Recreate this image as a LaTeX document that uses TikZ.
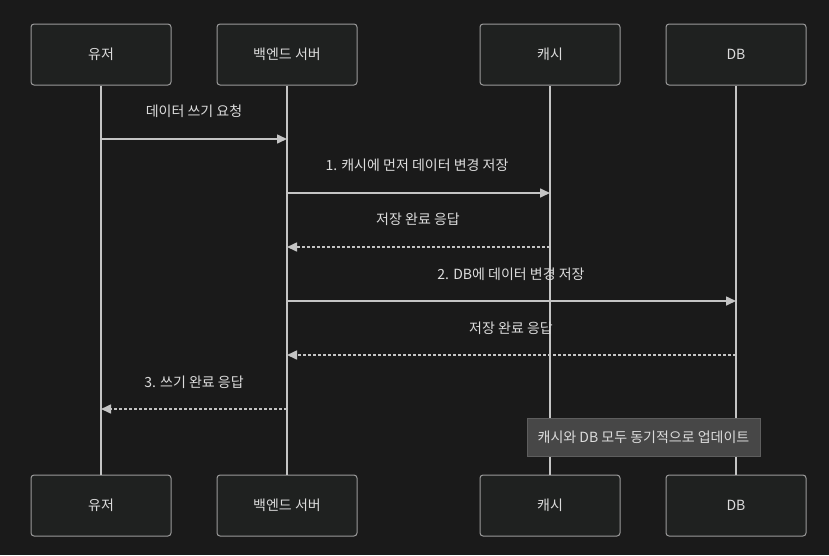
\documentclass[tikz,border=0pt]{standalone}
\usepackage{fontspec}
\setmainfont{Noto Sans CJK KR}
\usetikzlibrary{arrows.meta}
\definecolor{bgc}{HTML}{1A1A1A}
\definecolor{boxfill}{HTML}{1F2120}
\definecolor{boxline}{HTML}{9A9A9A}
\definecolor{lifec}{HTML}{C4C4C4}
\definecolor{txtc}{HTML}{DCDCDC}
\definecolor{notefill}{HTML}{474747}
\definecolor{noteline}{HTML}{5E5E5E}
\tikzset{
  actor/.style={draw=boxline, fill=boxfill, line width=1pt, rounded corners=3pt,
    minimum width=140pt, minimum height=61pt, text=txtc, font=\fontsize{14}{16}\selectfont, inner sep=0pt},
  lifeline/.style={draw=lifec, line width=1.5pt},
  msg/.style={draw=lifec, line width=1.6pt, -{Triangle[length=10pt,width=9pt]}},
  reply/.style={msg, dash pattern=on 3pt off 2pt},
  lbl/.style={text=txtc, font=\fontsize{14}{16}\selectfont, inner sep=0pt},
  notebox/.style={draw=noteline, fill=notefill, line width=1pt, text=txtc,
    font=\fontsize{14}{16}\selectfont, minimum width=233pt, minimum height=38pt, inner sep=0pt}
}
\begin{document}
\begin{tikzpicture}[x=1pt,y=-1pt]
\fill[bgc] (0,0) rectangle (829,555);
\useasboundingbox (0,0) rectangle (829,555);
% top actors
\node[actor] (u1) at (101,54.5) {유저};
\node[actor] (b1) at (287,54.5) {백엔드 서버};
\node[actor] (c1) at (550,54.5) {캐시};
\node[actor] (d1) at (736,54.5) {DB};
% bottom actors
\node[actor] (u2) at (101,505.5) {유저};
\node[actor] (b2) at (287,505.5) {백엔드 서버};
\node[actor] (c2) at (550,505.5) {캐시};
\node[actor] (d2) at (736,505.5) {DB};
% lifelines
\draw[lifeline] (u1.south) -- (u2.north);
\draw[lifeline] (b1.south) -- (b2.north);
\draw[lifeline] (c1.south) -- (c2.north);
\draw[lifeline] (d1.south) -- (d2.north);
% message anchor coordinates
\coordinate (m1a) at (101,139); \coordinate (m1b) at (287,139);
\coordinate (m2a) at (287,193); \coordinate (m2b) at (550,193);
\coordinate (m3a) at (550,247); \coordinate (m3b) at (287,247);
\coordinate (m4a) at (287,301); \coordinate (m4b) at (736,301);
\coordinate (m5a) at (736,355); \coordinate (m5b) at (287,355);
\coordinate (m6a) at (287,409); \coordinate (m6b) at (101,409);
\draw[msg] (m1a) -- (m1b);
\draw[msg] (m2a) -- (m2b);
\draw[reply] (m3a) -- (m3b);
\draw[msg] (m4a) -- (m4b);
\draw[reply] (m5a) -- (m5b);
\draw[reply] (m6a) -- (m6b);
% labels
\node[lbl] (t1) at (194,111) {데이터 쓰기 요청};
\node[lbl] (t2) at (417,165) {1. 캐시에 먼저 데이터 변경 저장};
\node[lbl] (t3) at (418,219) {저장 완료 응답};
\node[lbl] (t4) at (511,274) {2. DB에 데이터 변경 저장};
\node[lbl] (t5) at (511,328) {저장 완료 응답};
\node[lbl] (t6) at (194,382) {3. 쓰기 완료 응답};
% note
\node[notebox] (n1) at (643.5,437.5) {캐시와 DB 모두 동기적으로 업데이트};
\end{tikzpicture}
\end{document}
